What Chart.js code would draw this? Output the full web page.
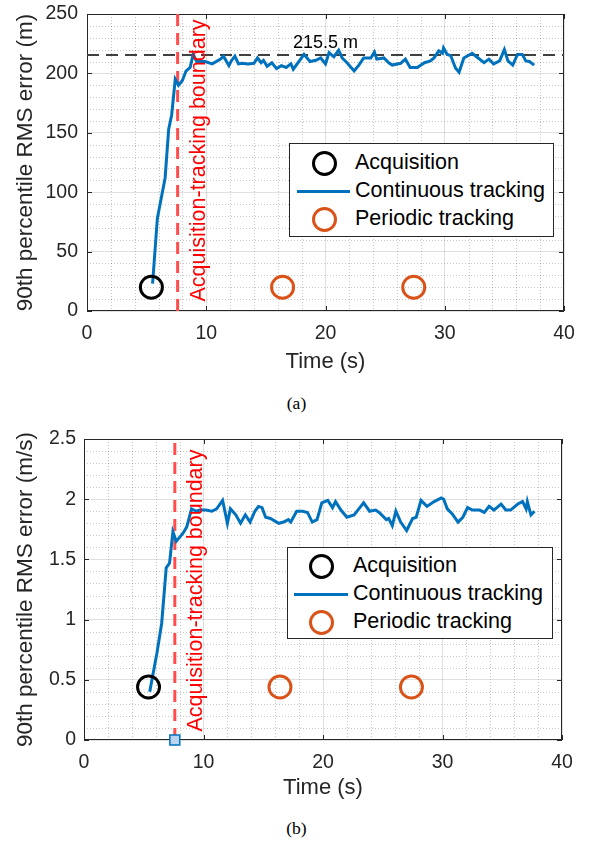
<!DOCTYPE html>
<html>
<head>
<meta charset="utf-8">
<script src="https://cdn.jsdelivr.net/npm/chart.js@4.4.0/dist/chart.umd.min.js"></script>
<style>
  body { margin: 0; width: 593px; height: 848px; background: #fff; position: relative; overflow: hidden;
         font-family: "Liberation Sans", Arial, sans-serif; }
  canvas { position: absolute; left: 0; }
  #posChart { top: 0; }
  #velChart { top: 425px; }
  .legend { position: absolute; background: #fff; border: 1px solid #262626; box-sizing: border-box; }
  .row { position: absolute; left: 0; width: 100%; height: 0; }
  .circ { position: absolute; width: 25px; height: 25px; margin-top: -12.5px; margin-left: -12.5px;
          border: 3px solid #000; border-radius: 50%; box-sizing: border-box; }
  .ln { position: absolute; height: 3px; margin-top: -1.5px; background: #0072BD; }
  .txt { position: absolute; top: 0; transform: translateY(-52%); font-size: 21.5px; white-space: nowrap; color: #000; }
  .cap { position: absolute; width: 593px; text-align: center; font-family: "Liberation Serif", "DejaVu Serif", serif;
         font-size: 17.5px; color: #000; }
</style>
</head>
<body>
<canvas id="posChart" width="593" height="385"></canvas>
<canvas id="velChart" width="593" height="385"></canvas>

<div class="legend" style="left:289px; top:143px; width:265px; height:94px;">
  <div class="row" style="top:19px;"><div class="circ" style="left:34px; border-color:#000;"></div><div class="txt" style="left:65px;">Acquisition</div></div>
  <div class="row" style="top:47px;"><div class="ln" style="left:7px; width:53px;"></div><div class="txt" style="left:65px;">Continuous tracking</div></div>
  <div class="row" style="top:75px;"><div class="circ" style="left:34px; border-color:#D95319;"></div><div class="txt" style="left:65px;">Periodic tracking</div></div>
</div>

<div class="legend" style="left:287px; top:547px; width:266px; height:92px;">
  <div class="row" style="top:18px;"><div class="circ" style="left:33px; border-color:#000;"></div><div class="txt" style="left:65px;">Acquisition</div></div>
  <div class="row" style="top:46px;"><div class="ln" style="left:6px; width:54px;"></div><div class="txt" style="left:65px;">Continuous tracking</div></div>
  <div class="row" style="top:74px;"><div class="circ" style="left:33px; border-color:#D95319;"></div><div class="txt" style="left:65px;">Periodic tracking</div></div>
</div>

<div class="cap" style="top:393px;">(a)</div>
<div class="cap" style="top:818px;">(b)</div>

<script>
// (a) position error
const timePos = [5.5, 5.9, 6.55, 6.85, 7.1, 7.4, 7.67, 8.0, 8.3, 8.65, 8.9, 9.2, 9.9, 10.5, 11.2, 11.45, 11.9, 12.1,
  12.4, 12.7, 13.0, 13.5, 14.0, 14.3, 14.6, 14.8, 15.1, 15.5, 15.9, 16.3, 16.7, 17.1, 17.3, 17.7, 18.2, 18.7, 19.2,
  19.6, 20.0, 20.3, 20.7, 21.1, 21.4, 21.8, 22.4, 22.8, 23.2, 23.8, 24.1, 24.3, 24.9, 25.3, 25.6, 26.3, 26.7, 27.1,
  27.7, 28.3, 28.8, 29.1, 29.5, 29.8, 29.9, 30.2, 30.5, 30.9, 31.2, 31.6, 32.3, 32.8, 33.3, 33.7, 34.1, 34.6, 35.0,
  35.3, 35.7, 36.1, 36.5, 36.8, 37.1, 37.5];
const rmsPos = [23, 78, 112, 153, 165, 195, 190, 194, 202, 205, 216, 210, 210, 208, 212, 214.5, 206.5, 210.5,
  214.5, 208, 208.5, 208, 208.5, 213, 209, 211, 206, 209, 204, 206.5, 205, 208, 203.5, 209, 216, 210, 211,
  213, 208, 217.5, 214, 219.5, 213, 209, 202, 207, 213, 213, 218, 212, 213, 209, 207, 208.5, 212, 205,
  205, 209, 210.5, 213, 219, 217, 221.5, 216, 215, 204.5, 201, 213, 217, 213, 209, 212, 208, 210.5, 220,
  210.5, 207, 216, 216, 210.5, 210, 207];

// (b) velocity error
const timeVel = [5.5, 6.1, 6.5, 6.88, 7.16, 7.44, 7.72, 8.3, 8.6, 9.0, 9.4, 9.7, 10.2, 10.7, 11.1, 11.6, 12.0, 12.25,
  12.7, 13.1, 13.5, 13.9, 14.3, 14.6, 14.9, 15.2, 15.6, 16.3, 16.7, 17.1, 17.3, 17.8, 18.3, 18.7, 19.1, 19.5, 19.9,
  20.4, 20.8, 21.05, 21.5, 22.0, 22.6, 23.0, 23.4, 23.9, 24.4, 24.7, 25.3, 25.5, 25.8, 26.1, 26.5, 27.0, 27.5, 27.8,
  28.2, 28.7, 29.3, 29.9, 30.1, 30.4, 30.8, 31.3, 31.7, 32.1, 32.5, 33.1, 33.5, 33.9, 34.3, 34.9, 35.3, 35.7, 36.3,
  36.7, 37.0, 37.1, 37.4, 37.7];
const rmsVel = [0.40, 0.72, 0.97, 1.43, 1.47, 1.73, 1.65, 1.72, 1.77, 1.92, 1.90, 1.91, 1.91, 1.90, 1.92, 1.99, 1.80, 1.92,
  1.87, 1.80, 1.87, 1.81, 1.90, 1.94, 1.93, 1.85, 1.84, 1.80, 1.81, 1.83, 1.81, 1.90, 1.90, 1.89, 1.81, 1.83, 1.97,
  1.99, 1.93, 1.98, 1.91, 1.85, 1.87, 1.92, 1.97, 1.90, 1.91, 1.89, 1.83, 1.84, 1.78, 1.90, 1.81, 1.74, 1.84, 1.85,
  1.99, 1.94, 1.98, 2.01, 2.00, 1.92, 1.88, 1.81, 1.85, 1.93, 1.91, 1.91, 1.89, 1.94, 1.91, 1.96, 1.91, 1.91, 1.96,
  1.98, 1.92, 1.98, 1.87, 1.90];

const acqTime = 5.4;
const acqPos = 20;
const acqVel = 0.44;
const periodicTimes = [16.4, 27.4];
const periodicPos = [20, 20];
const periodicVel = [0.44, 0.44];
const boundaryTime = 7.6;
const meanPos = 215.5;

const xTicks = [0, 10, 20, 30, 40];
const yTicksPos = [0, 50, 100, 150, 200, 250];
const yTicksVel = [0, 0.5, 1, 1.5, 2, 2.5];

const FONT = '"Liberation Sans", Arial, sans-serif';
const BLUE = '#0072BD';
const ORANGE = '#D95319';

const toXY = (xs, ys) => xs.map((x, i) => ({ x: x, y: ys[i] }));

// minor dotted grid, axis box with inward ticks, and text annotations
const decor = {
  id: 'decor',
  beforeDatasetsDraw(chart, args, o) {
    const { ctx, chartArea: a, scales: { x, y } } = chart;
    ctx.save();
    ctx.strokeStyle = 'rgba(0,0,0,0.22)';
    ctx.lineWidth = 1;
    ctx.setLineDash([1, 2]);
    for (let i = 1; i * o.xMinor < x.max - 1e-9; i++) {
      if (i % o.xEvery === 0) continue;
      const px = Math.round(x.getPixelForValue(i * o.xMinor)) + 0.5;
      ctx.beginPath(); ctx.moveTo(px, a.top); ctx.lineTo(px, a.bottom); ctx.stroke();
    }
    for (let i = 1; i * o.yMinor < y.max - 1e-9; i++) {
      if (i % o.yEvery === 0) continue;
      const py = Math.round(y.getPixelForValue(i * o.yMinor)) + 0.5;
      ctx.beginPath(); ctx.moveTo(a.left, py); ctx.lineTo(a.right, py); ctx.stroke();
    }
    ctx.setLineDash([]);
    ctx.strokeStyle = '#262626';
    ctx.strokeRect(Math.round(a.left) + 0.5, Math.round(a.top) + 0.5,
      Math.round(a.width) - 1, Math.round(a.height) - 1);
    ctx.beginPath();
    x.ticks.forEach(t => {
      const px = Math.round(x.getPixelForValue(t.value)) + 0.5;
      ctx.moveTo(px, a.bottom); ctx.lineTo(px, a.bottom - 5);
      ctx.moveTo(px, a.top); ctx.lineTo(px, a.top + 5);
    });
    y.ticks.forEach(t => {
      const py = Math.round(y.getPixelForValue(t.value)) + 0.5;
      ctx.moveTo(a.left, py); ctx.lineTo(a.left + 5, py);
      ctx.moveTo(a.right, py); ctx.lineTo(a.right - 5, py);
    });
    ctx.stroke();
    ctx.restore();
  },
  afterDatasetsDraw(chart, args, o) {
    const { ctx, scales: { x, y } } = chart;
    ctx.save();
    ctx.translate(x.getPixelForValue(boundaryTime) + 21.5, y.getPixelForValue(o.labelY));
    ctx.rotate(-Math.PI / 2);
    ctx.font = '21.5px ' + FONT;
    ctx.fillStyle = '#ff0000';
    ctx.textAlign = 'left';
    ctx.textBaseline = 'middle';
    ctx.fillText(o.boundaryText, 0, 0);
    ctx.restore();
    if (o.meanText) {
      ctx.save();
      ctx.font = '18px ' + FONT;
      ctx.fillStyle = '#000';
      ctx.textAlign = 'center';
      ctx.textBaseline = 'alphabetic';
      ctx.fillText(o.meanText, x.getPixelForValue(20), y.getPixelForValue(meanPos) - 7);
      ctx.restore();
    }
  }
};

function genChart(id, cfg) {
  const datasets = [
    { data: [{ x: acqTime, y: cfg.acq }], pointStyle: 'circle', pointRadius: 11, borderWidth: 3,
      borderColor: '#000', backgroundColor: 'rgba(0,0,0,0)', order: 0, clip: false },
    { data: toXY(periodicTimes, cfg.periodic), pointStyle: 'circle', pointRadius: 11, borderWidth: 3,
      borderColor: ORANGE, backgroundColor: 'rgba(0,0,0,0)', order: 0, clip: false },
    { data: toXY(cfg.time, cfg.values), showLine: true, borderColor: BLUE, borderWidth: 3,
      pointRadius: 0, tension: 0, order: 1 },
    { data: [{ x: boundaryTime, y: 0 }, { x: boundaryTime, y: cfg.yMax }], showLine: true,
      borderColor: '#ff4d4d', borderWidth: 3, borderDash: [12, 7], pointRadius: 0, order: 2 }
  ];
  if (cfg.mean !== undefined) {
    datasets.push({ data: [{ x: 0, y: cfg.mean }, { x: 40, y: cfg.mean }], showLine: true,
      borderColor: '#404040', borderWidth: 2, borderDash: [12, 7], pointRadius: 0, order: 3 });
  }
  if (cfg.marker) {
    datasets.push({ data: [{ x: boundaryTime, y: 0 }], pointStyle: 'rect', pointRadius: 7,
      borderWidth: 1.5, borderColor: BLUE, backgroundColor: '#b9d4ec', order: 0, clip: false });
  }

  return new Chart(document.getElementById(id), {
    type: 'scatter',
    data: { datasets: datasets },
    plugins: [decor],
    options: {
      responsive: false,
      animation: false,
      devicePixelRatio: 1,
      layout: { padding: { top: cfg.padTop, right: cfg.padRight, left: 0, bottom: 0 } },
      plugins: {
        legend: { display: false },
        tooltip: { enabled: false },
        decor: {
          xMinor: 2, xEvery: 5, yMinor: cfg.yMinor, yEvery: 5, labelY: cfg.labelY,
          boundaryText: 'Acquisition-tracking boundary', meanText: cfg.meanText
        }
      },
      scales: {
        x: {
          type: 'linear', min: 0, max: 40,
          afterBuildTicks: s => { s.ticks = xTicks.map(v => ({ value: v })); },
          afterFit: s => { s.height = cfg.xHeight; s.paddingLeft = 0; s.paddingRight = 0; },
          grid: { color: 'rgba(0,0,0,0.12)', drawTicks: false },
          border: { display: false },
          ticks: { font: { size: 19.5, family: FONT }, color: '#262626', padding: 11, maxRotation: 0,
                   autoSkip: false, callback: v => String(v) },
          title: { display: true, text: 'Time (s)', font: { size: 22, family: FONT }, color: '#262626',
                   padding: { bottom: cfg.xTitlePad } }
        },
        y: {
          type: 'linear', min: 0, max: cfg.yMax,
          afterBuildTicks: s => { s.ticks = cfg.yTicks.map(v => ({ value: v })); },
          afterFit: s => { s.width = cfg.yWidth; s.paddingTop = 0; s.paddingBottom = 0; },
          grid: { color: 'rgba(0,0,0,0.12)', drawTicks: false },
          border: { display: false },
          ticks: { font: { size: 19.5, family: FONT }, color: '#262626', padding: cfg.yTickPad,
                   autoSkip: false, callback: v => String(v) },
          title: { display: true, text: cfg.yTitle, font: { size: 22.5, family: FONT }, color: '#262626',
                   padding: { top: 12 } }
        }
      }
    }
  });
}

genChart('posChart', {
  time: timePos, values: rmsPos, acq: acqPos, periodic: periodicPos, yMax: 250, yTicks: yTicksPos,
  yMinor: 10, mean: meanPos, meanText: '215.5 m', labelY: 8, yTitle: '90th percentile RMS error (m)',
  padTop: 11, padRight: 29, xHeight: 74, yWidth: 87, yTickPad: 9, xTitlePad: 10
});

genChart('velChart', {
  time: timeVel, values: rmsVel, acq: acqVel, periodic: periodicVel, yMax: 2.5, yTicks: yTicksVel,
  yMinor: 0.1, marker: true, labelY: 0.07, yTitle: '90th percentile RMS error (m/s)',
  padTop: 14, padRight: 31, xHeight: 70, yWidth: 84, yTickPad: 8, xTitlePad: 9
});
</script>
</body>
</html>
